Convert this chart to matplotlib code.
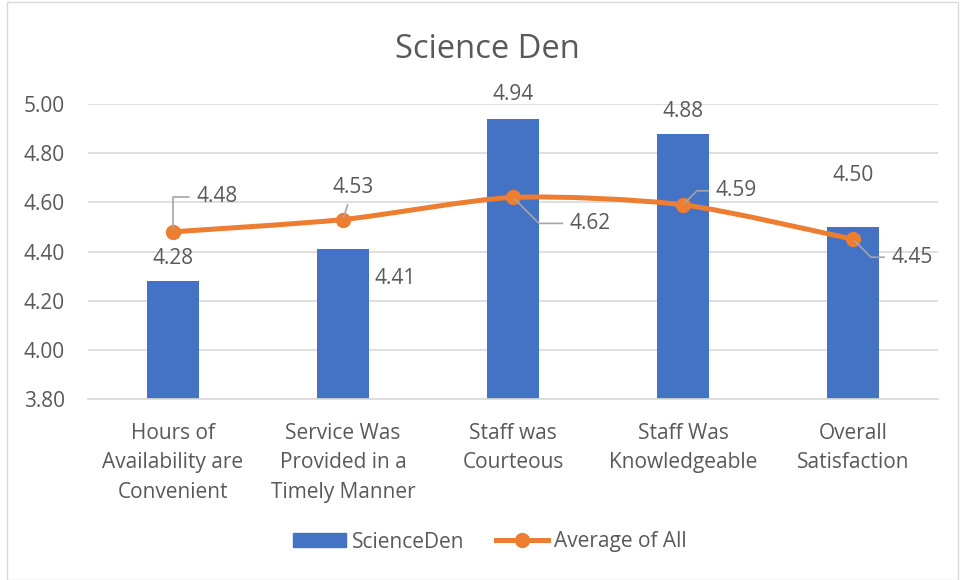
import numpy as np
import matplotlib.pyplot as plt
from matplotlib.path import Path
from matplotlib.patches import PathPatch, Rectangle
from matplotlib.lines import Line2D

plt.rcParams['font.family'] = ['Open Sans', 'DejaVu Sans']

categories = ['Hours of\nAvailability are\nConvenient',
              'Service Was\nProvided in a\nTimely Manner',
              'Staff was\nCourteous',
              'Staff Was\nKnowledgeable',
              'Overall\nSatisfaction']
science_den = [4.28, 4.41, 4.94, 4.88, 4.50]
average_all = [4.48, 4.53, 4.62, 4.59, 4.45]

bar_color = '#4472C4'
line_color = '#ED7D31'
text_color = '#595959'
grid_color = '#D9D9D9'
leader_color = '#A6A6A6'
fs = 15

fig = plt.figure(figsize=(9.6, 5.8), dpi=100)
ax = fig.add_axes([88/960, 1-399/580, 850/960, 295/580])

x = np.arange(len(categories))
ax.bar(x, science_den, width=0.31, color=bar_color, zorder=2)

# smoothed line drawn as cubic Bezier through the points (Excel-style smooth line)
pts = np.column_stack([x, average_all]).astype(float)
ext = np.vstack([pts[0], pts, pts[-1]])
verts = [tuple(pts[0])]
codes = [Path.MOVETO]
for i in range(len(pts) - 1):
    p0, p1, p2, p3 = ext[i], ext[i+1], ext[i+2], ext[i+3]
    c1 = p1 + (p2 - p0) / 8
    c2 = p2 - (p3 - p1) / 8
    verts += [tuple(c1), tuple(c2), tuple(p2)]
    codes += [Path.CURVE4] * 3
ax.add_patch(PathPatch(Path(verts, codes), facecolor='none', edgecolor=line_color,
                       lw=3.6, capstyle='round', zorder=3))
ax.plot(x, average_all, linestyle='none', marker='o', ms=10, color=line_color, zorder=4)

ax.set_ylim(3.8, 5.0)
ax.set_xlim(-0.5, len(categories) - 0.5)
yt = np.arange(3.8, 5.01, 0.2)
ax.set_yticks(yt)
ax.set_yticklabels(['{:.2f}'.format(v) for v in yt])
ax.set_xticks(x)
ax.set_xticklabels(categories, linespacing=1.55)
ax.tick_params(axis='both', length=0, labelsize=fs, colors=text_color)
ax.tick_params(axis='y', pad=16.5)
ax.tick_params(axis='x', pad=17)
ax.grid(axis='y', color=grid_color, lw=1.2, zorder=0)
ax.set_axisbelow(True)
for s in ['top', 'right', 'left']:
    ax.spines[s].set_visible(False)
ax.spines['bottom'].set_color(grid_color)
ax.spines['bottom'].set_linewidth(1.2)

# bar value labels (pixel offsets from bar top)
bar_offsets = [(0, 12), (52, -40), (0, 14), (0, 12), (0, 41)]
for xi, v, (dx, dy) in zip(x, science_den, bar_offsets):
    ax.annotate('{:.2f}'.format(v), (xi, v), xytext=(dx, dy), textcoords='offset pixels',
                ha='center', va='bottom', fontsize=fs, color=text_color)

# line value labels with leader lines
line_offsets = [(44, 35), (10, 32), (77, -26), (53, 14), (59, -18)]
connections = ['angle,angleA=0,angleB=90,rad=0', 'arc3',
               'angle,angleA=0,angleB=-45,rad=0', 'angle,angleA=0,angleB=45,rad=0',
               'angle,angleA=0,angleB=-45,rad=0']
for xi, v, (dx, dy), cs in zip(x, average_all, line_offsets, connections):
    ax.annotate('{:.2f}'.format(v), (xi, v), xytext=(dx, dy), textcoords='offset pixels',
                ha='center', va='center', fontsize=fs, color=text_color, zorder=5,
                arrowprops=dict(arrowstyle='-', color=leader_color, lw=1.2,
                                connectionstyle=cs, shrinkA=3, shrinkB=2))

fig.text(487/960, 1-50/580, 'Science Den', ha='center', va='center',
         fontsize=23.5, color=text_color)

handles = [Rectangle((0, 0), 1, 1, color=bar_color),
           Line2D([], [], color=line_color, lw=3.6, marker='o', ms=10)]
fig.legend(handles, ['ScienceDen', 'Average of All'], loc='center',
           bbox_to_anchor=(490/960, 1-542/580), ncol=2, frameon=False,
           fontsize=fs, labelcolor=text_color, handlelength=2.5, handleheight=0.67,
           handletextpad=0.3, columnspacing=1.5)

fig.patches.append(Rectangle((7/960, 0.5/580), 951/960, 578/580, transform=fig.transFigure,
                             fill=False, edgecolor='#D9D9D9', lw=1))

fig.savefig('out.png', dpi=100)
